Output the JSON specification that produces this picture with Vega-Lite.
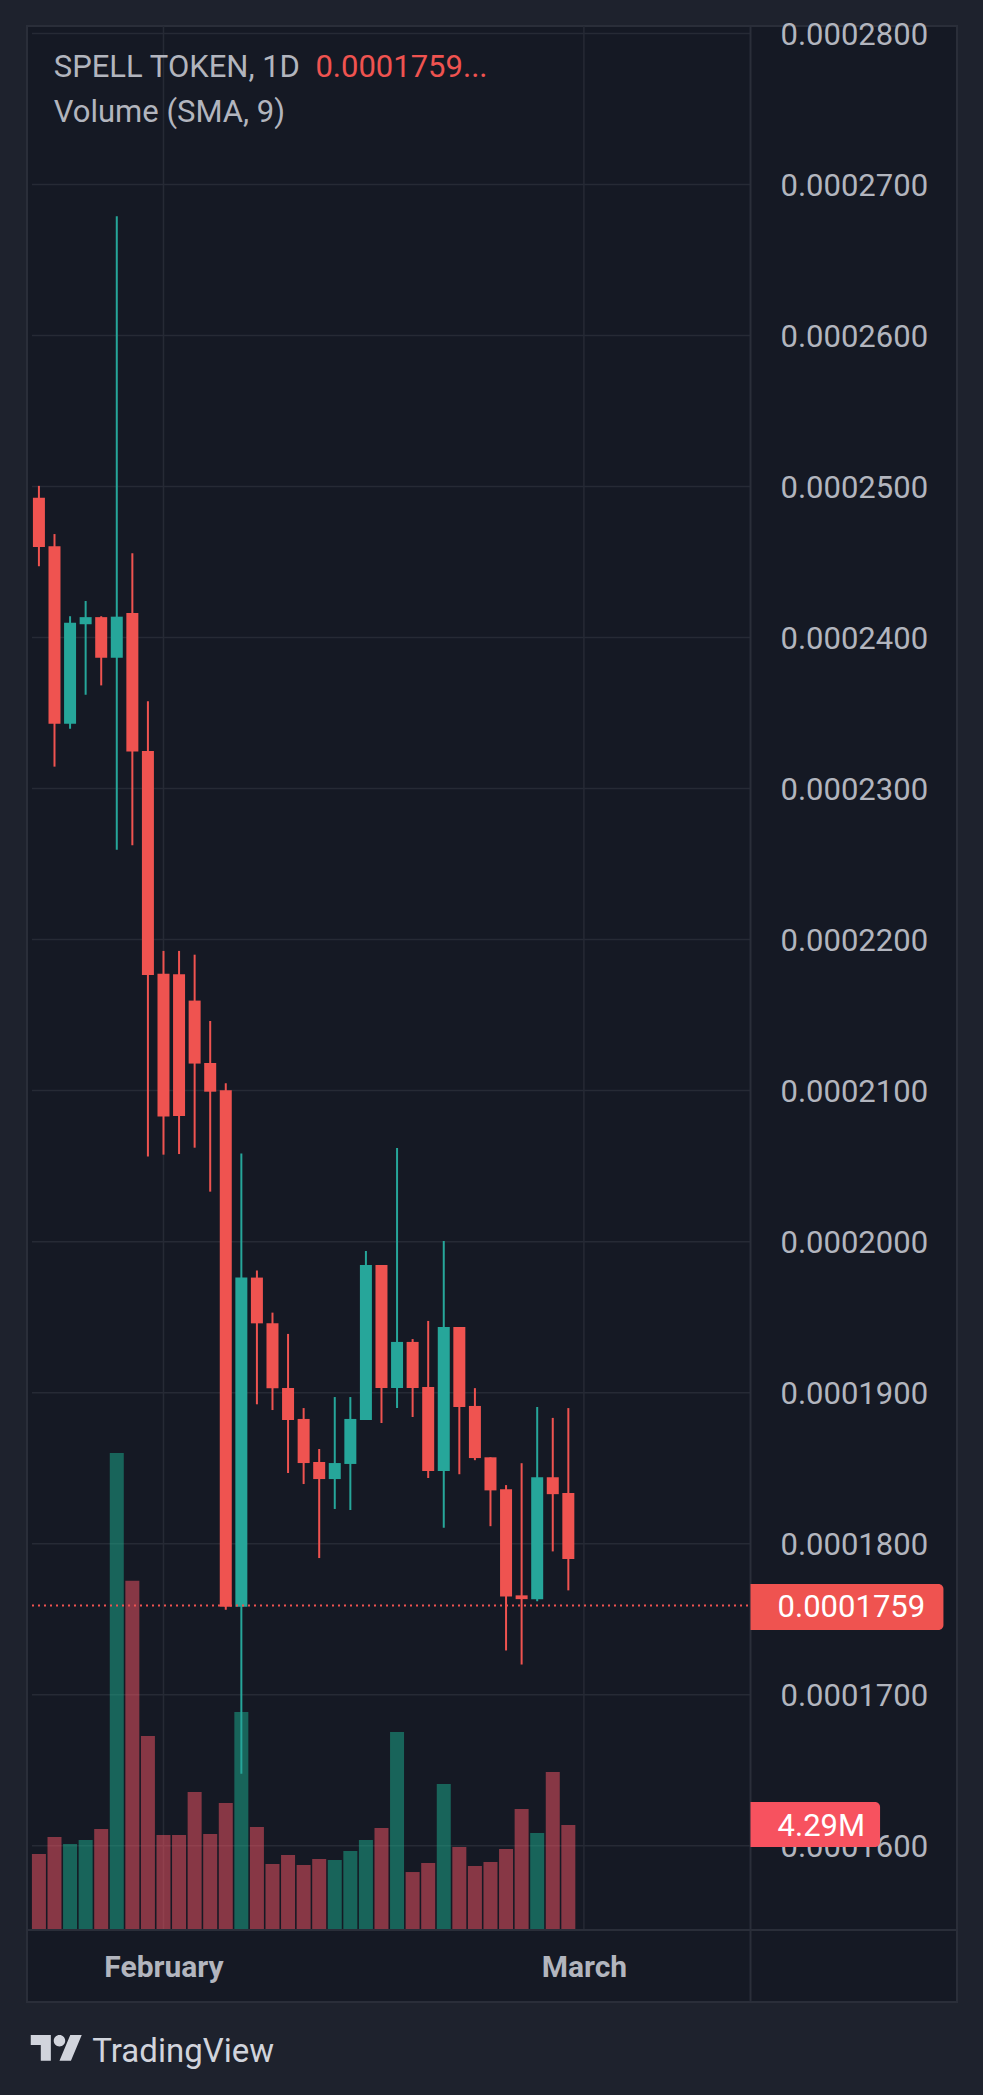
{
  "$schema": "https://vega.github.io/schema/vega-lite/v6.json",
  "description": "SPELL TOKEN 1D candles with volume",
  "width": 930,
  "height": 1976,
  "autosize": "none",
  "padding": {"left": 27, "top": 26, "right": 26, "bottom": 93},
  "background": "#1e222d",
  "config": {
    "view": {"fill": "#151924", "stroke": "#2a2e39", "strokeWidth": 2},
    "font": "Roboto"
  },
  "datasets": {
    "anchor": [{}],
    "priceGrid": [
      {"p": 0.00016}, {"p": 0.00017}, {"p": 0.00018}, {"p": 0.00019}, {"p": 0.0002},
      {"p": 0.00021}, {"p": 0.00022}, {"p": 0.00023}, {"p": 0.00024}, {"p": 0.00025},
      {"p": 0.00026}, {"p": 0.00027}, {"p": 0.00028}
    ],
    "months": [{"i": 8, "month": "February"}, {"i": 35, "month": "March"}],
    "candles": [
      {"i": 0, "open": 0.00024925, "high": 0.00025004, "low": 0.00024472, "close": 0.00024599, "volume": 3.09},
      {"i": 1, "open": 0.00024605, "high": 0.00024685, "low": 0.00023145, "close": 0.00023429, "volume": 3.80},
      {"i": 2, "open": 0.00023429, "high": 0.00024141, "low": 0.00023396, "close": 0.00024097, "volume": 3.51},
      {"i": 3, "open": 0.00024088, "high": 0.00024242, "low": 0.00023621, "close": 0.00024135, "volume": 3.67},
      {"i": 4, "open": 0.00024135, "high": 0.00024141, "low": 0.00023683, "close": 0.00023866, "volume": 4.13},
      {"i": 5, "open": 0.00023866, "high": 0.00026790, "low": 0.00022595, "close": 0.00024138, "volume": 19.64},
      {"i": 6, "open": 0.00024162, "high": 0.00024558, "low": 0.00022625, "close": 0.00023245, "volume": 14.37},
      {"i": 7, "open": 0.00023249, "high": 0.00023578, "low": 0.00020563, "close": 0.00021765, "volume": 7.96},
      {"i": 8, "open": 0.00021773, "high": 0.00021925, "low": 0.00020576, "close": 0.00020829, "volume": 3.88},
      {"i": 9, "open": 0.00021770, "high": 0.00021925, "low": 0.00020580, "close": 0.00020832, "volume": 3.88},
      {"i": 10, "open": 0.00021596, "high": 0.00021900, "low": 0.00020622, "close": 0.00021179, "volume": 5.65},
      {"i": 11, "open": 0.00021183, "high": 0.00021461, "low": 0.00020331, "close": 0.00020993, "volume": 3.92},
      {"i": 12, "open": 0.00021002, "high": 0.00021048, "low": 0.00017562, "close": 0.00017583, "volume": 5.20},
      {"i": 13, "open": 0.00017583, "high": 0.00020584, "low": 0.00016477, "close": 0.00019762, "volume": 8.95},
      {"i": 14, "open": 0.00019762, "high": 0.00019809, "low": 0.00018923, "close": 0.00019459, "volume": 4.21},
      {"i": 15, "open": 0.00019459, "high": 0.00019530, "low": 0.00018885, "close": 0.00019029, "volume": 2.68},
      {"i": 16, "open": 0.00019031, "high": 0.00019389, "low": 0.00018468, "close": 0.00018819, "volume": 3.05},
      {"i": 17, "open": 0.00018826, "high": 0.00018898, "low": 0.00018395, "close": 0.00018534, "volume": 2.64},
      {"i": 18, "open": 0.00018541, "high": 0.00018627, "low": 0.00017905, "close": 0.00018428, "volume": 2.89},
      {"i": 19, "open": 0.00018428, "high": 0.00018971, "low": 0.00018230, "close": 0.00018534, "volume": 2.85},
      {"i": 20, "open": 0.00018528, "high": 0.00018971, "low": 0.00018223, "close": 0.00018826, "volume": 3.22},
      {"i": 21, "open": 0.00018819, "high": 0.00019938, "low": 0.00018819, "close": 0.00019845, "volume": 3.67},
      {"i": 22, "open": 0.00019845, "high": 0.00019845, "low": 0.00018799, "close": 0.00019031, "volume": 4.17},
      {"i": 23, "open": 0.00019031, "high": 0.00020620, "low": 0.00018898, "close": 0.00019336, "volume": 8.13},
      {"i": 24, "open": 0.00019336, "high": 0.00019355, "low": 0.00018839, "close": 0.00019031, "volume": 2.35},
      {"i": 25, "open": 0.00019038, "high": 0.00019475, "low": 0.00018435, "close": 0.00018481, "volume": 2.72},
      {"i": 26, "open": 0.00018481, "high": 0.00020005, "low": 0.00018105, "close": 0.00019435, "volume": 5.98},
      {"i": 27, "open": 0.00019435, "high": 0.00019435, "low": 0.00018460, "close": 0.00018905, "volume": 3.38},
      {"i": 28, "open": 0.00018912, "high": 0.00019030, "low": 0.00018553, "close": 0.00018567, "volume": 2.60},
      {"i": 29, "open": 0.00018572, "high": 0.00018572, "low": 0.00018116, "close": 0.00018353, "volume": 2.76},
      {"i": 30, "open": 0.00018360, "high": 0.00018388, "low": 0.00017293, "close": 0.00017651, "volume": 3.30},
      {"i": 31, "open": 0.00017658, "high": 0.00018533, "low": 0.00017200, "close": 0.00017633, "volume": 4.95},
      {"i": 32, "open": 0.00017633, "high": 0.00018905, "low": 0.00017619, "close": 0.00018440, "volume": 3.96},
      {"i": 33, "open": 0.00018440, "high": 0.00018833, "low": 0.00017949, "close": 0.00018328, "volume": 6.48},
      {"i": 34, "open": 0.00018335, "high": 0.00018898, "low": 0.00017691, "close": 0.00017898, "volume": 4.29}
    ]
  },
  "layer": [
    {
      "layer": [
        {
          "data": {"name": "priceGrid"},
          "mark": {"type": "rule", "color": "#262a35", "strokeWidth": 1.5},
          "encoding": {
            "y": {"field": "p", "type": "quantitative", "axis": null,
                  "scale": {"domain": [0.000149655, 0.00028049], "nice": false, "zero": false}},
            "x": {"datum": -0.4447, "type": "quantitative",
                  "scale": {"domain": [-0.4447, 58.64], "nice": false, "zero": false}},
            "x2": {"datum": 45.70}
          }
        },
        {
          "data": {"name": "months"},
          "mark": {"type": "rule", "color": "#262a35", "strokeWidth": 1.5},
          "encoding": {
            "x": {"field": "i", "type": "quantitative"},
            "y": {"datum": 0.00028049, "type": "quantitative"},
            "y2": {"datum": 0.00015442}
          }
        },
        {
          "data": {"name": "anchor"},
          "mark": {"type": "rule", "color": "#2a2e39", "strokeWidth": 2},
          "encoding": {"x": {"datum": 45.70, "type": "quantitative"}}
        },
        {
          "data": {"name": "anchor"},
          "mark": {"type": "rule", "color": "#2a2e39", "strokeWidth": 2},
          "encoding": {"y": {"datum": 0.00015442, "type": "quantitative"}}
        }
      ]
    },
    {
      "data": {"name": "candles"},
      "mark": {"type": "bar", "size": 14, "opacity": 0.5},
      "encoding": {
        "x": {"field": "i", "type": "quantitative"},
        "y": {"field": "volume", "type": "quantitative", "axis": null,
              "scale": {"domain": [-3.012, 78.51], "nice": false, "zero": false}},
        "y2": {"datum": 0},
        "color": {
          "condition": {"test": "datum.close >= datum.open", "value": "#1caf90"},
          "value": "#fa5565"
        }
      }
    },
    {
      "layer": [
        {
          "data": {"name": "candles"},
          "mark": {"type": "rule", "strokeWidth": 2},
          "encoding": {
            "x": {"field": "i", "type": "quantitative",
                  "axis": {
                    "orient": "bottom", "offset": -72, "values": [8, 35],
                    "labelExpr": "datum.value == 8 ? 'February' : 'March'",
                    "domain": false, "ticks": false, "tickSize": 0, "grid": false,
                    "labelPadding": 37, "labelBaseline": "middle",
                    "labelFont": "Roboto", "labelFontSize": 30, "labelFontWeight": "bold",
                    "labelColor": "#b2b5be", "title": null,
                    "labelFlush": false, "labelOverlap": false
                  }},
            "y": {"field": "low", "type": "quantitative",
                  "scale": {"domain": [0.000149655, 0.00028049], "nice": false, "zero": false},
                  "axis": {
                    "orient": "right", "offset": -177,
                    "values": [0.00016, 0.00017, 0.00018, 0.00019, 0.0002, 0.00021, 0.00022, 0.00023, 0.00024, 0.00025, 0.00026, 0.00027, 0.00028],
                    "format": ".7f", "domain": false, "ticks": false, "tickSize": 0, "grid": false,
                    "labelPadding": 0, "labelAlign": "left", "labelBaseline": "middle", "labelOffset": 2,
                    "labelFont": "Roboto", "labelFontSize": 31, "labelColor": "#b2b5be",
                    "title": null, "labelFlush": false, "labelOverlap": false, "labelBound": false
                  }},
            "y2": {"field": "high"},
            "color": {
              "condition": {"test": "datum.close >= datum.open", "value": "#26a69a"},
              "value": "#ef5350"
            }
          }
        },
        {
          "data": {"name": "candles"},
          "mark": {"type": "bar", "size": 12},
          "encoding": {
            "x": {"field": "i", "type": "quantitative"},
            "y": {"field": "open", "type": "quantitative"},
            "y2": {"field": "close"},
            "color": {
              "condition": {"test": "datum.close >= datum.open", "value": "#26a69a"},
              "value": "#ef5350"
            }
          }
        },
        {
          "data": {"name": "anchor"},
          "mark": {"type": "rule", "color": "#ef5350", "strokeWidth": 2, "strokeDash": [2, 4]},
          "encoding": {
            "y": {"datum": 0.0001759, "type": "quantitative"},
            "x": {"datum": -0.4447, "type": "quantitative"},
            "x2": {"datum": 45.70}
          }
        },
        {
          "data": {"name": "anchor"},
          "mark": {"type": "rect", "color": "#ef5350", "cornerRadiusTopRight": 5, "cornerRadiusBottomRight": 5},
          "encoding": {
            "x": {"datum": 45.70, "type": "quantitative"},
            "x2": {"datum": 58.09},
            "y": {"datum": 0.00017733, "type": "quantitative"},
            "y2": {"datum": 0.00017429}
          }
        },
        {
          "data": {"name": "anchor"},
          "mark": {"type": "text", "align": "left", "baseline": "middle", "font": "Roboto", "fontSize": 31, "color": "#ffffff"},
          "encoding": {
            "x": {"datum": 47.44, "type": "quantitative"},
            "y": {"datum": 0.00017574, "type": "quantitative"},
            "text": {"value": "0.0001759"}
          }
        },
        {
          "data": {"name": "anchor"},
          "mark": {"type": "rect", "color": "#f7525f", "cornerRadiusTopRight": 5, "cornerRadiusBottomRight": 5},
          "encoding": {
            "x": {"datum": 45.70, "type": "quantitative"},
            "x2": {"datum": 54.02},
            "y": {"datum": 0.0001629, "type": "quantitative"},
            "y2": {"datum": 0.00015992}
          }
        },
        {
          "data": {"name": "anchor"},
          "mark": {"type": "text", "align": "left", "baseline": "middle", "font": "Roboto", "fontSize": 31, "color": "#ffffff"},
          "encoding": {
            "x": {"datum": 47.44, "type": "quantitative"},
            "y": {"datum": 0.00016126, "type": "quantitative"},
            "text": {"value": "4.29M"}
          }
        },
        {
          "data": {"name": "anchor"},
          "mark": {"type": "text", "align": "left", "baseline": "alphabetic", "font": "Roboto", "fontSize": 31, "color": "#b2b5be"},
          "encoding": {
            "x": {"datum": 0.953, "type": "quantitative"},
            "y": {"datum": 0.000277113, "type": "quantitative"},
            "text": {"value": "SPELL TOKEN, 1D"}
          }
        },
        {
          "data": {"name": "anchor"},
          "mark": {"type": "text", "align": "left", "baseline": "alphabetic", "font": "Roboto", "fontSize": 31, "color": "#ef5350"},
          "encoding": {
            "x": {"datum": 17.757, "type": "quantitative"},
            "y": {"datum": 0.000277113, "type": "quantitative"},
            "text": {"value": "0.0001759..."}
          }
        },
        {
          "data": {"name": "anchor"},
          "mark": {"type": "text", "align": "left", "baseline": "alphabetic", "font": "Roboto", "fontSize": 31, "color": "#b2b5be"},
          "encoding": {
            "x": {"datum": 0.953, "type": "quantitative"},
            "y": {"datum": 0.000274134, "type": "quantitative"},
            "text": {"value": "Volume (SMA, 9)"}
          }
        },
        {
          "data": {"name": "anchor"},
          "mark": {
            "type": "point", "filled": true, "size": 2601, "strokeWidth": 0, "opacity": 1, "color": "#d1d4dc",
            "shape": "M-1,-0.507L-0.211,-0.507L-0.211,0.507L-0.606,0.507L-0.606,-0.113L-1,-0.113Z M0.127,0.507L0.549,-0.507L1,-0.507L0.577,0.507Z M-0.098,-0.282A0.225,0.225,0,1,0,0.352,-0.282A0.225,0.225,0,1,0,-0.098,-0.282Z"
          },
          "encoding": {
            "x": {"datum": 1.112, "type": "quantitative"},
            "y": {"datum": 0.00014662, "type": "quantitative"}
          }
        },
        {
          "data": {"name": "anchor"},
          "mark": {"type": "text", "align": "left", "baseline": "alphabetic", "font": "Roboto", "fontSize": 33, "color": "#d1d4dc"},
          "encoding": {
            "x": {"datum": 3.431, "type": "quantitative"},
            "y": {"datum": 0.0001457, "type": "quantitative"},
            "text": {"value": "TradingView"}
          }
        }
      ]
    }
  ],
  "resolve": {"scale": {"y": "independent"}}
}
